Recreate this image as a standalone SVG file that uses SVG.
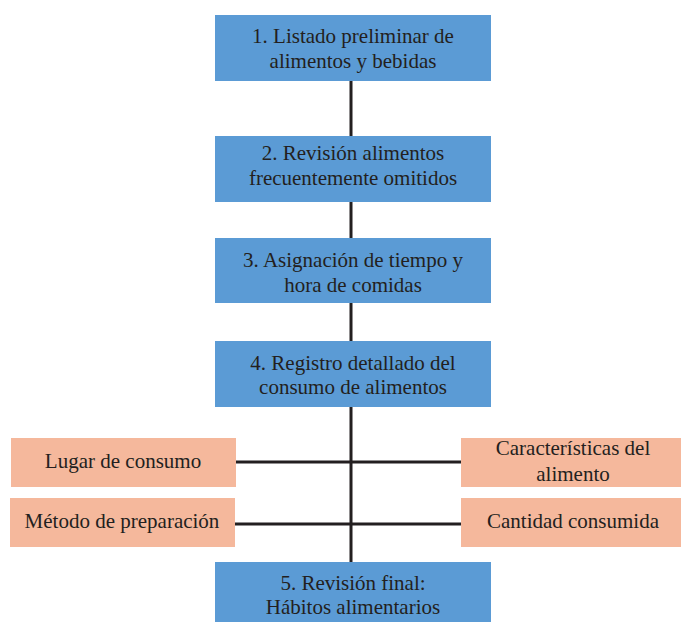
<svg xmlns="http://www.w3.org/2000/svg" width="681" height="622" viewBox="0 0 681 622">
<style>
.b{fill:#5b9bd5}
.s{fill:#f5b89c}
.t{font-family:"Liberation Serif","DejaVu Serif",serif;font-size:21px;fill:#231f20;text-anchor:middle}
.c{stroke:#231f20;stroke-width:3;fill:none}
</style>
<rect width="681" height="622" fill="#fff"/>
<g id="connectors">
<line class="c" x1="351" y1="80" x2="351" y2="562"/>
<line class="c" x1="236" y1="462" x2="461" y2="462"/>
<line class="c" x1="235" y1="524" x2="461" y2="524"/>
</g>
<g id="n1"><rect class="b" x="215" y="15" width="276" height="66"/><text class="t" x="353" y="43">1. Listado preliminar de</text><text class="t" x="353" y="68">alimentos y bebidas</text></g>
<g id="n2"><rect class="b" x="215" y="136" width="276" height="66"/><text class="t" x="353" y="160">2. Revisión alimentos</text><text class="t" x="353" y="185">frecuentemente omitidos</text></g>
<g id="n3"><rect class="b" x="215" y="238" width="276" height="65"/><text class="t" x="353" y="267">3. Asignación de tiempo y</text><text class="t" x="353" y="292">hora de comidas</text></g>
<g id="n4"><rect class="b" x="215" y="341" width="276" height="66"/><text class="t" x="353" y="370">4. Registro detallado del</text><text class="t" x="353" y="394">consumo de alimentos</text></g>
<g id="n5"><rect class="b" x="215" y="562" width="276" height="60"/><text class="t" x="353" y="590">5. Revisión final:</text><text class="t" x="353" y="614">Hábitos alimentarios</text></g>
<g id="a1"><rect class="s" x="11" y="438" width="225" height="49"/><text class="t" x="123" y="468">Lugar de consumo</text></g>
<g id="a2"><rect class="s" x="10" y="498" width="225" height="49"/><text class="t" x="122" y="528">Método de preparación</text></g>
<g id="a3"><rect class="s" x="461" y="438" width="220" height="49"/><text class="t" x="573" y="455">Características del</text><text class="t" x="573" y="481">alimento</text></g>
<g id="a4"><rect class="s" x="461" y="498" width="220" height="49"/><text class="t" x="573" y="528">Cantidad consumida</text></g>
</svg>
